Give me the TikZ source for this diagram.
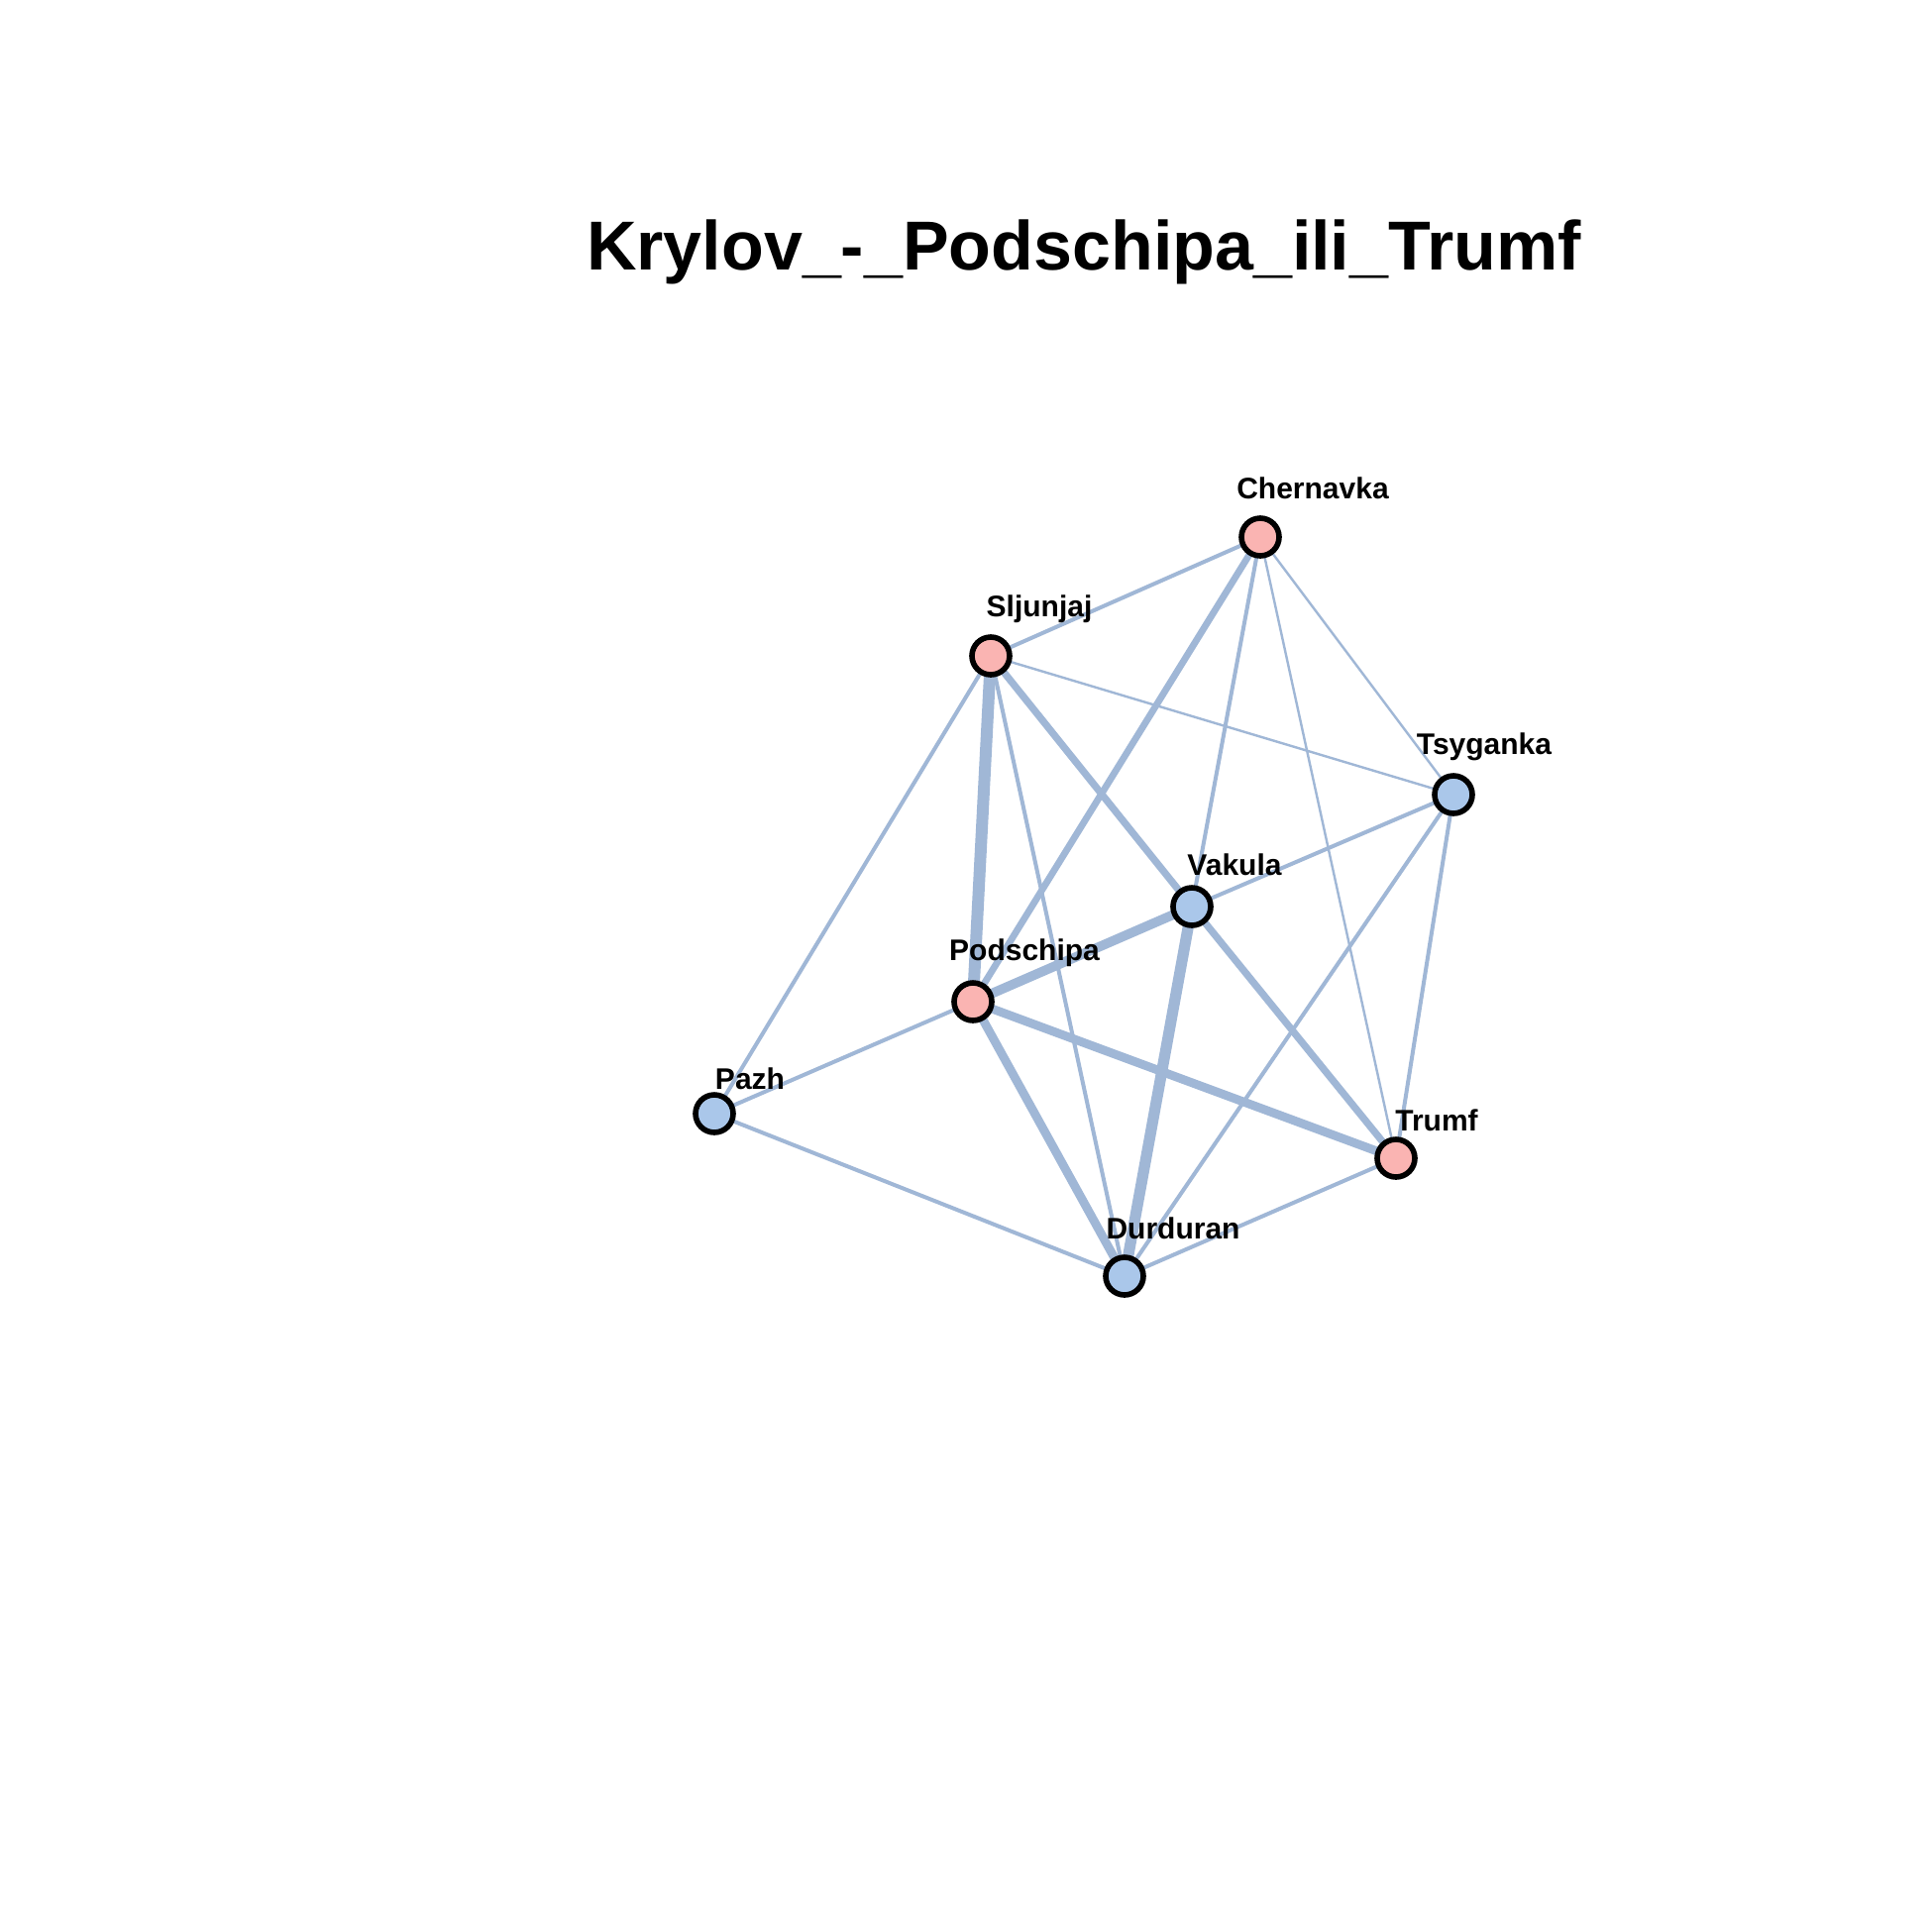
\documentclass[tikz,border=0pt]{standalone}
\usepackage{fontspec}
\setmainfont{Liberation Sans}
\pgfdeclarelayer{bottom}
\pgfdeclarelayer{background}
\pgfsetlayers{bottom,background,main}
\definecolor{edgec}{RGB}{160,183,214}
\definecolor{pinkc}{RGB}{250,180,178}
\definecolor{bluec}{RGB}{170,199,234}
\tikzset{
  vtx/.style={circle, draw=black, line width=2.8pt, minimum size=19pt, inner sep=0pt},
  vpink/.style={vtx, fill=pinkc},
  vblue/.style={vtx, fill=bluec},
  lbl/.style={anchor=base, font=\fontsize{15}{17}\selectfont\bfseries, inner sep=0pt},
  ed/.style={draw=edgec, line width=#1},
}
\begin{document}
\begin{tikzpicture}[x=0.5pt,y=-0.5pt]
\useasboundingbox (0,0) rectangle (1950,1950);
\begin{pgfonlayer}{bottom}
\fill[white] (0,0) rectangle (1950,1950);
\end{pgfonlayer}
\node[anchor=base, inner sep=0pt, font=\fontsize{35}{40}\selectfont\bfseries] (title) at (1094,272) {Krylov\_-\_Podschipa\_ili\_Trumf};

\node[vpink] (Ch) at (1272,542) {};
\node[vpink] (Sl) at (1000,662) {};
\node[vblue] (Ts) at (1467,802) {};
\node[vblue] (Va) at (1203,915) {};
\node[vpink] (Po) at (982,1011) {};
\node[vblue] (Pa) at (721,1124) {};
\node[vpink] (Tr) at (1409,1169) {};
\node[vblue] (Du) at (1135,1288) {};

\node[lbl] (lCh) at (1325,503) {Chernavka};
\node[lbl] (lSl) at (1049,622) {Sljunjaj};
\node[lbl] (lTs) at (1498,761) {Tsyganka};
\node[lbl] (lVa) at (1246,883) {Vakula};
\node[lbl] (lPo) at (1034,969) {Podschipa};
\node[lbl] (lPa) at (757,1099) {Pazh};
\node[lbl] (lTr) at (1450,1141) {Trumf};
\node[lbl] (lDu) at (1184,1250) {Durduran};

\begin{pgfonlayer}{background}
\draw[ed=2.0pt] (Ch.center) -- (Sl.center);
\draw[ed=3.4pt] (Ch.center) -- (Po.center);
\draw[ed=2.0pt] (Ch.center) -- (Va.center);
\draw[ed=1.2pt] (Ch.center) -- (Tr.center);
\draw[ed=1.2pt] (Ch.center) -- (Ts.center);
\draw[ed=1.2pt] (Sl.center) -- (Ts.center);
\draw[ed=6.0pt] (Sl.center) -- (Po.center);
\draw[ed=3.6pt] (Sl.center) -- (Va.center);
\draw[ed=2.0pt] (Sl.center) -- (Du.center);
\draw[ed=2.0pt] (Sl.center) -- (Pa.center);
\draw[ed=2.0pt] (Ts.center) -- (Va.center);
\draw[ed=2.0pt] (Ts.center) -- (Du.center);
\draw[ed=2.0pt] (Ts.center) -- (Tr.center);
\draw[ed=4.8pt] (Va.center) -- (Po.center);
\draw[ed=5.6pt] (Va.center) -- (Du.center);
\draw[ed=3.6pt] (Va.center) -- (Tr.center);
\draw[ed=4.4pt] (Po.center) -- (Tr.center);
\draw[ed=4.4pt] (Po.center) -- (Du.center);
\draw[ed=2.0pt] (Po.center) -- (Pa.center);
\draw[ed=2.0pt] (Pa.center) -- (Du.center);
\draw[ed=2.0pt] (Du.center) -- (Tr.center);
\end{pgfonlayer}
\end{tikzpicture}
\end{document}
